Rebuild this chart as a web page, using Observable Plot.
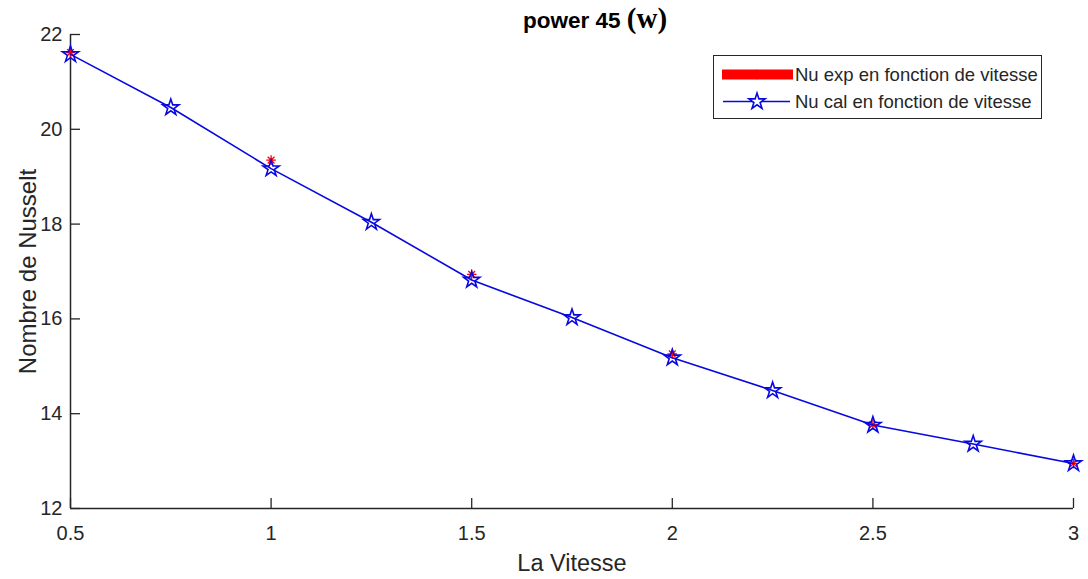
<!DOCTYPE html>
<html>
<head>
<meta charset="utf-8">
<script src="https://cdn.jsdelivr.net/npm/d3@7"></script>
<script src="https://cdn.jsdelivr.net/npm/@observablehq/plot@0.6"></script>
<style>
  html, body { margin: 0; padding: 0; background: #fff; }
  #chart svg { display: block; }
</style>
</head>
<body>
<div id="chart"></div>
<script>
// Nusselt number versus air velocity, heating power 45 W
const vitesseCal = [0.5, 0.75, 1, 1.25, 1.5, 1.75, 2, 2.25, 2.5, 2.75, 3];
const nuCal      = [21.58, 20.46, 19.17, 18.04, 16.82, 16.03, 15.18, 14.49, 13.76, 13.36, 12.95];

const vitesseExp = [0.5, 1, 1.5, 2, 2.5, 3];
const nuExp      = [21.62, 19.35, 16.94, 15.26, 13.77, 12.95];

const xTicks = [0.5, 1, 1.5, 2, 2.5, 3];
const yTicks = [12, 14, 16, 18, 20, 22];

const titleMain = "power 45 ";
const titleUnit = "(w)";
const xLabel = "La Vitesse";
const yLabel = "Nombre de Nusselt";
const legendExp = "Nu exp en fonction de vitesse";
const legendCal = "Nu cal en fonction de vitesse";

const cal = vitesseCal.map((v, i) => ({v, nu: nuCal[i]}));
const exp = vitesseExp.map((v, i) => ({v, nu: nuExp[i]}));

// Eight-spoke asterisk (plus and cross)
const asterisk = {
  draw(ctx, size) {
    const r = Math.sqrt(size / Math.PI);
    const d = r * Math.SQRT1_2;
    ctx.moveTo(-r, 0); ctx.lineTo(r, 0);
    ctx.moveTo(0, -r); ctx.lineTo(0, r);
    ctx.moveTo(-d, -d); ctx.lineTo(d, d);
    ctx.moveTo(-d, d); ctx.lineTo(d, -d);
  }
};

// Five-pointed star outline, point up
const pentagram = {
  draw(ctx, size) {
    const R = Math.sqrt(size / Math.PI);
    const ri = R * 0.382;
    for (let k = 0; k < 10; ++k) {
      const a = -Math.PI / 2 + k * Math.PI / 5;
      const rr = k % 2 ? ri : R;
      const px = rr * Math.cos(a), py = rr * Math.sin(a);
      if (k === 0) ctx.moveTo(px, py); else ctx.lineTo(px, py);
    }
    ctx.closePath();
  }
};

const axisColor = "#262626";
const lineBlue = "#0808e0";
const font = "'Liberation Sans', Arial, Helvetica, sans-serif";
const tickLen = 10;

const chart = Plot.plot({
  width: 1088,
  height: 579,
  marginLeft: 70,
  marginRight: 15,
  marginTop: 34,
  marginBottom: 71,
  style: {fontFamily: font, fontSize: "20px", color: axisColor, background: "#fff"},
  x: {domain: [0.5, 3]},
  y: {domain: [12, 22]},
  marks: [
    // inward tick marks
    Plot.ruleX(xTicks, {x: d => d, y1: 12, y2: 12, insetTop: -tickLen, stroke: axisColor, strokeWidth: 1.3}),
    Plot.ruleY(yTicks, {y: d => d, x1: 0.5, x2: 0.5, insetRight: -tickLen, stroke: axisColor, strokeWidth: 1.3}),
    // tick labels
    Plot.axisX(xTicks, {tickSize: 0, tickPadding: 17, tickFormat: d => String(d), label: null, fontSize: 20}),
    Plot.axisY(yTicks, {tickSize: 0, tickPadding: 8, tickFormat: d => String(d), label: null, fontSize: 20}),
    // axis lines
    Plot.ruleX([0.5], {stroke: axisColor, strokeWidth: 1.5}),
    Plot.ruleY([12], {stroke: axisColor, strokeWidth: 1.5}),
    // axis titles
    Plot.text([xLabel], {frameAnchor: "bottom", dy: 55, fontSize: 23.5, fill: axisColor, textAnchor: "middle", lineAnchor: "middle"}),
    Plot.text([yLabel], {frameAnchor: "left", dx: -42, rotate: -90, fontSize: 24, fill: axisColor, textAnchor: "middle", lineAnchor: "middle"}),
    // experimental values
    Plot.dot(exp, {x: "v", y: "nu", symbol: asterisk, r: 4.8, stroke: "#ff0000", fill: "none", strokeWidth: 1.3}),
    // calculated values
    Plot.line(cal, {x: "v", y: "nu", stroke: lineBlue, strokeWidth: 1.6}),
    Plot.dot(cal, {x: "v", y: "nu", symbol: pentagram, r: 8.5, stroke: lineBlue, fill: "none", strokeWidth: 1.6})
  ]
});

document.getElementById("chart").appendChild(chart);

const svg = d3.select(chart);

// Title with the unit set in a serif face
const title = svg.append("text")
  .attr("x", 523).attr("y", 28)
  .attr("text-anchor", "start")
  .attr("font-weight", "bold")
  .attr("fill", "#000");
title.append("tspan").attr("font-family", font).attr("font-size", 22.5).text(titleMain);
title.append("tspan").attr("font-family", "'Liberation Serif', 'Times New Roman', serif").attr("font-size", 29).text(titleUnit);

// Legend box
const lg = svg.append("g").attr("text-anchor", "start");
lg.append("rect")
  .attr("x", 713.5).attr("y", 55.5).attr("width", 328).attr("height", 63)
  .attr("fill", "#fff").attr("stroke", axisColor).attr("stroke-width", 1);

const sym = (type, r) => d3.symbol(type, r * r * Math.PI)();

lg.append("line").attr("x1", 722).attr("x2", 793).attr("y1", 74.5).attr("y2", 74.5)
  .attr("stroke", "#ff0000").attr("stroke-width", 10);
lg.append("path").attr("d", sym(asterisk, 4.8)).attr("transform", "translate(757,74.5)")
  .attr("stroke", "#ff0000").attr("fill", "none").attr("stroke-width", 1.3);
lg.append("text").attr("x", 795).attr("y", 74.5).attr("dy", "0.35em")
  .attr("font-family", font).attr("font-size", 18.5).attr("fill", axisColor).text(legendExp);

lg.append("line").attr("x1", 723).attr("x2", 790).attr("y1", 101.5).attr("y2", 101.5)
  .attr("stroke", lineBlue).attr("stroke-width", 1.6);
lg.append("path").attr("d", sym(pentagram, 8.5)).attr("transform", "translate(757,101.5)")
  .attr("stroke", lineBlue).attr("fill", "#fff").attr("stroke-width", 1.6);
lg.append("text").attr("x", 795).attr("y", 101.5).attr("dy", "0.35em")
  .attr("font-family", font).attr("font-size", 18.5).attr("fill", axisColor).text(legendCal);
</script>
</body>
</html>
